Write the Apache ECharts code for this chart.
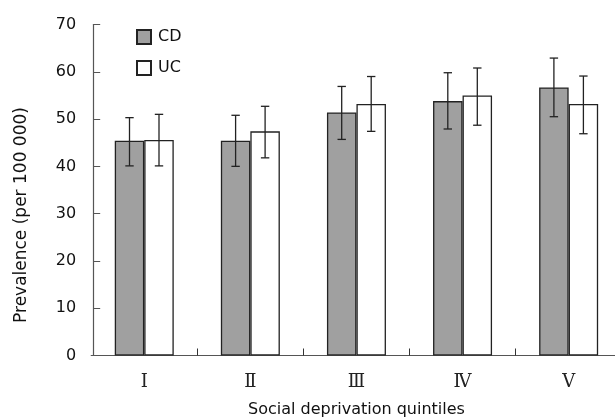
<!DOCTYPE html>
<html>
<head>
<meta charset="utf-8">
<script src="https://cdn.jsdelivr.net/npm/echarts@6/dist/echarts.min.js"></script>
<style>html,body{margin:0;padding:0;background:#fff;}#c{width:615px;height:419px;}</style>
</head>
<body>
<div id="c"></div>
<script>
var categories = ['Ⅰ', 'Ⅱ', 'Ⅲ', 'Ⅳ', 'Ⅴ'];
var cdValues = [45.4, 45.4, 51.4, 53.8, 56.7];
var cdLow = [40.1, 40.0, 45.7, 47.9, 50.5];
var cdHigh = [50.3, 50.8, 56.9, 59.8, 62.9];
var ucValues = [45.6, 47.4, 53.2, 55.0, 53.2];
var ucLow = [40.1, 41.8, 47.4, 48.7, 46.9];
var ucHigh = [51.0, 52.7, 59.0, 60.8, 59.1];
var yTicks = [0, 70, 10];

var BAR_W = 29.5;
function errData(low, high) {
  return categories.map(function (c, i) { return [i, low[i], high[i]]; });
}
function errSeries(name, low, high, side) {
  return {
    type: 'custom',
    name: name + ' err',
    z: 5,
    silent: true,
    data: errData(low, high),
    renderItem: function (params, api) {
      var idx = api.value(0);
      var lo = api.coord([idx, api.value(1)]);
      var hi = api.coord([idx, api.value(2)]);
      var x = lo[0] + side * BAR_W / 2;
      var cap = 4.2;
      var st = { stroke: '#222', lineWidth: 1.3 };
      return {
        type: 'group',
        children: [
          { type: 'line', shape: { x1: x, y1: lo[1], x2: x, y2: hi[1] }, style: st },
          { type: 'line', shape: { x1: x - cap, y1: hi[1], x2: x + cap, y2: hi[1] }, style: st },
          { type: 'line', shape: { x1: x - cap, y1: lo[1], x2: x + cap, y2: lo[1] }, style: st }
        ]
      };
    }
  };
}

var chart = echarts.init(document.getElementById('c'), null, { renderer: 'canvas' });
chart.setOption({
  animation: false,
  backgroundColor: '#fff',
  grid: { left: 91.2, right: -6.7, top: 24.5, bottom: 63.5, containLabel: false, outerBoundsMode: 'none' },
  legend: {
    orient: 'vertical',
    left: 131,
    top: 24,
    itemWidth: 14,
    itemHeight: 14,
    itemGap: 15,
    data: [
      { name: 'CD', icon: 'rect' },
      { name: 'UC', icon: 'rect' }
    ],
    textStyle: { fontFamily: 'DejaVu Sans', fontSize: 16, color: '#111', padding: [0, 0, 0, 2] }
  },
  xAxis: {
    type: 'category',
    data: categories,
    name: 'Social deprivation quintiles',
    nameLocation: 'middle',
    nameGap: 46,
    nameTextStyle: { fontFamily: 'DejaVu Sans', fontSize: 16, color: '#111' },
    axisLine: { lineStyle: { color: '#555', width: 1.2 } },
    axisTick: {
      show: true, inside: true, length: 7, lineStyle: { color: '#333' },
      interval: function (i) { return i !== 0; }
    },
    axisLabel: { fontFamily: 'Liberation Serif, DejaVu Serif, serif', fontSize: 18, color: '#222', margin: 18 }
  },
  yAxis: {
    type: 'value',
    min: yTicks[0],
    max: yTicks[1],
    interval: yTicks[2],
    offset: -2,
    axisLine: { show: true, lineStyle: { color: '#555', width: 1.2 } },
    axisTick: { show: true, inside: true, length: 7, lineStyle: { color: '#555' } },
    splitLine: { show: false },
    axisLabel: { fontFamily: 'DejaVu Sans', fontSize: 16, color: '#111', margin: 17 }
  },
  graphic: [{
    type: 'text',
    x: 22,
    y: 215,
    rotation: Math.PI / 2,
    style: {
      text: 'Prevalence (per 100 000)',
      fontFamily: 'DejaVu Sans',
      fontSize: 17,
      fill: '#111',
      align: 'center',
      verticalAlign: 'middle'
    }
  }],
  series: [
    {
      name: 'CD',
      type: 'bar',
      data: cdValues,
      barWidth: BAR_W,
      barGap: '0%',
      itemStyle: { color: '#a0a0a0', borderColor: '#222', borderWidth: 1.3 }
    },
    {
      name: 'UC',
      type: 'bar',
      data: ucValues,
      barWidth: BAR_W,
      barGap: '0%',
      itemStyle: { color: '#ffffff', borderColor: '#222', borderWidth: 1.3 }
    },
    errSeries('CD', cdLow, cdHigh, -1),
    errSeries('UC', ucLow, ucHigh, 1)
  ]
});
</script>
</body>
</html>
